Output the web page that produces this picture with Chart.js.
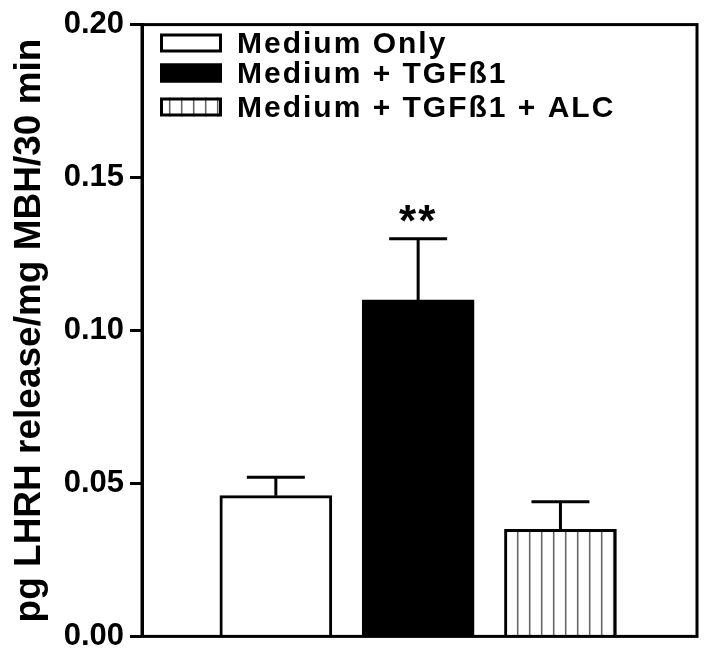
<!DOCTYPE html>
<html>
<head>
<meta charset="utf-8">
<script src="https://cdn.jsdelivr.net/npm/chart.js@4.4.1/dist/chart.umd.min.js"></script>
<style>
  body { margin: 0; background: #fff; }
  #wrap { width: 708px; height: 661px; }
</style>
</head>
<body>
<div id="wrap"><canvas id="chart" width="708" height="661"></canvas></div>
<script>
/* =========================
   DATA
========================= */
const categories = ["Medium Only", "Medium + TGFß1", "Medium + TGFß1 + ALC"];
const means = [0.046, 0.110, 0.035];
const errors = [0.006, 0.020, 0.009];
const marks = ["", "**", ""];
const yTicks = [0.00, 0.05, 0.10, 0.15, 0.20];
const yTitle = "pg LHRH release/mg MBH/30 min";

const FONT = "'Liberation Sans', Arial, Helvetica, sans-serif";

/* =========================
   STRIPE FILL
========================= */
function stripePattern() {
  const tile = document.createElement("canvas");
  tile.width = 12;
  tile.height = 12;
  const g = tile.getContext("2d");
  g.fillStyle = "#fff";
  g.fillRect(0, 0, 12, 12);
  g.strokeStyle = "#666";
  g.lineWidth = 1.6;
  g.beginPath();
  g.moveTo(1.7, 0);
  g.lineTo(1.7, 12);
  g.stroke();
  return g.createPattern(tile, "repeat");
}

const fills = ["#ffffff", "#000000", stripePattern()];

/* =========================
   PLUGINS
========================= */
const frame = {
  id: "frame",
  afterDatasetsDraw(chart) {
    const { ctx, chartArea: a } = chart;
    ctx.save();
    ctx.strokeStyle = "#000";
    ctx.lineWidth = 3;
    ctx.strokeRect(a.left, a.top, a.right - a.left, a.bottom - a.top);
    ctx.restore();
  }
};

const errorBars = {
  id: "errorBars",
  afterDatasetsDraw(chart) {
    const { ctx } = chart;
    const y = chart.scales.y;
    ctx.save();
    ctx.strokeStyle = "#000";
    ctx.lineWidth = 3;
    chart.data.datasets.forEach((ds, i) => {
      const bar = chart.getDatasetMeta(i).data[0];
      const top = y.getPixelForValue(means[i] + errors[i]);
      const half = 29;
      ctx.beginPath();
      ctx.moveTo(bar.x, bar.y);
      ctx.lineTo(bar.x, top);
      ctx.moveTo(bar.x - half, top);
      ctx.lineTo(bar.x + half, top);
      ctx.stroke();

      // significance mark over the bar
      if (marks[i]) {
        ctx.fillStyle = "#000";
        ctx.font = `bold 44px ${FONT}`;
        ctx.letterSpacing = "2px";
        ctx.textAlign = "center";
        ctx.textBaseline = "alphabetic";
        ctx.fillText(marks[i], bar.x, top - 3);
      }
    });
    ctx.restore();
  }
};

const boxLegend = {
  id: "boxLegend",
  afterDraw(chart) {
    const { ctx } = chart;
    const rows = [43, 73, 107];
    ctx.save();
    chart.data.datasets.forEach((ds, i) => {
      const cy = rows[i];
      ctx.fillStyle = ds.backgroundColor;
      ctx.fillRect(160, cy - 9.5, 62, 19);
      ctx.strokeStyle = "#000";
      ctx.lineWidth = 3;
      ctx.strokeRect(161.5, cy - 8, 59, 16);

      ctx.fillStyle = "#000";
      ctx.font = `bold 30px ${FONT}`;
      ctx.letterSpacing = "2px";
      ctx.textAlign = "left";
      ctx.textBaseline = "middle";
      ctx.fillText(ds.label, 237, cy + 2);
    });
    ctx.restore();
  }
};

/* =========================
   CHART
========================= */
new Chart(document.getElementById("chart"), {
  type: "bar",
  data: {
    datasets: categories.map((name, i) => ({
      label: name,
      data: [{ x: i + 1, y: means[i] }],
      backgroundColor: fills[i],
      borderColor: "#000",
      borderWidth: 3,
      barThickness: 112,
      grouped: false
    }))
  },
  options: {
    responsive: false,
    animation: false,
    layout: { padding: { left: 0, top: 22, right: 11, bottom: 21 } },
    plugins: {
      legend: { display: false },
      tooltip: { enabled: false }
    },
    scales: {
      x: {
        type: "linear",
        display: false,
        min: 0.338,
        max: 3.681
      },
      y: {
        min: 0,
        max: 0.2,
        afterFit: s => { s.width = 142; },
        afterBuildTicks: s => { s.ticks = yTicks.map(v => ({ value: v })); },
        ticks: {
          color: "#000",
          padding: 6,
          font: { family: FONT, size: 31, weight: "bold" },
          callback: v => v.toFixed(2)
        },
        grid: {
          drawOnChartArea: false,
          tickLength: 12,
          tickWidth: 3,
          tickColor: "#000"
        },
        border: { display: true, color: "#000", width: 3 },
        title: {
          display: true,
          text: yTitle,
          color: "#000",
          padding: { top: 8, bottom: 0 },
          font: { family: FONT, size: 37, weight: "bold" }
        }
      }
    }
  },
  plugins: [frame, errorBars, boxLegend]
});
</script>
</body>
</html>
